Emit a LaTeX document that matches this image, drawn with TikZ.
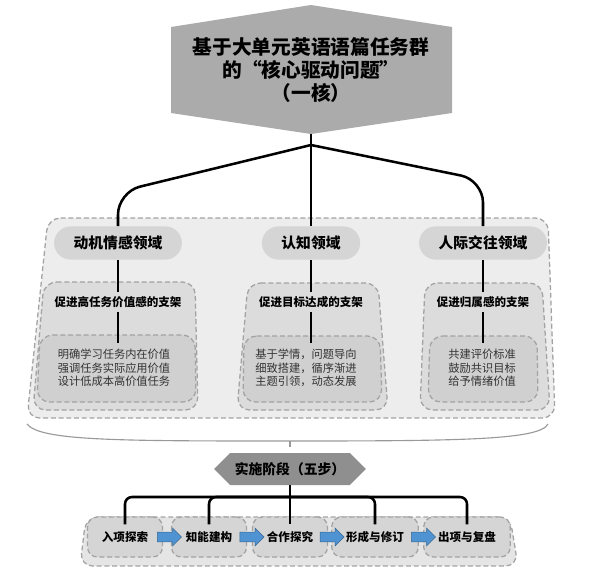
\documentclass[tikz,border=0pt]{standalone}
\usepackage{fontspec}
\setmainfont{Noto Sans CJK SC}
\usetikzlibrary{arrows.meta,positioning,shapes.arrows,shapes.symbols,shapes.misc,calc}
\definecolor{coregray}{HTML}{ABABAB}
\definecolor{phasegray}{HTML}{8F8F8F}
\definecolor{panelgray}{HTML}{EDEDED}
\definecolor{propgray}{HTML}{DCDCDC}
\definecolor{innergray}{HTML}{D0D0D0}
\definecolor{pillgray}{HTML}{D5D5D5}
\definecolor{dashgray}{HTML}{A3A3A3}
\definecolor{flowblue}{HTML}{4F93D2}

\begin{document}
\begin{tikzpicture}[x=0.025cm, y=-0.025cm,
  panel/.style={draw=dashgray, dash pattern=on 3.5pt off 2pt, line width=0.9pt, rounded corners=9pt},
  corebox/.style={align=center, font=\bfseries\fontsize{14}{16.5}\selectfont},
  fieldpill/.style={rounded rectangle, fill=pillgray, minimum height=0.83cm, inner xsep=0.45cm, font=\bfseries\fontsize{10.5}{12}\selectfont},
  propbox/.style={fill=propgray, inner sep=3pt, font=\bfseries\fontsize{8.2}{10}\selectfont},
  detail/.style={align=center, text=black!80, font=\fontsize{8}{9.6}\selectfont},
  trunk/.style={draw=black, line width=1.8pt, rounded corners=16pt},
  phasebox/.style={signal, signal to=west and east, fill=phasegray, minimum width=3.75cm, minimum height=0.8cm, font=\bfseries\fontsize{9.8}{12}\selectfont},
  stepbox/.style={draw=dashgray, dash pattern=on 3.5pt off 2pt, line width=0.9pt, rounded corners=7pt, fill=pillgray, minimum height=1cm, inner xsep=0.36cm, font=\bfseries\fontsize{8.2}{10}\selectfont},
  flowarrow/.style={single arrow, fill=flowblue, draw=flowblue!70!black, line width=0.4pt, minimum height=0.6cm, minimum width=0.43cm, single arrow head extend=0.1cm, inner xsep=0pt, inner ysep=0.115cm}
]
\useasboundingbox (0,0) rectangle (600,579);

\fill[coregray] (171,27) -- (311,5) -- (452,27) -- (452,113) -- (311,134) -- (171,113) -- cycle;
\node[corebox] (core) at (311,70) {基于大单元英语语篇任务群\\的“核心驱动问题”\\（一核）};
\coordinate (corebase) at (311,134);

\draw[panel, fill=panelgray] (48,218) -- (548,218) -- (555,418) -- (27,418) -- cycle;
\draw[panel, fill=propgray] (44,282) -- (195,282) -- (198,410) -- (33,410) -- cycle;
\draw[panel, fill=innergray] (40,335) -- (195,335) -- (196,402) -- (37,402) -- cycle;
\draw[panel, fill=propgray] (248,283) -- (378,283) -- (388,410) -- (237,410) -- cycle;
\draw[panel, fill=innergray] (244,336) -- (380,336) -- (382,402) -- (243,402) -- cycle;
\draw[panel, fill=propgray] (425,283) -- (542,283) -- (550,410) -- (420,410) -- cycle;
\draw[panel, fill=innergray] (430,336) -- (537,336) -- (538,402) -- (428,402) -- cycle;

\node[fieldpill] (dom1) at (118,243) {动机情感领域};
\node[fieldpill] (dom2) at (311,243) {认知领域};
\node[fieldpill] (dom3) at (483,243) {人际交往领域};
\node[propbox] (prop1) at (118,302) {促进高任务价值感的支架};
\node[propbox] (prop2) at (311,302) {促进目标达成的支架};
\node[propbox] (prop3) at (483,302) {促进归属感的支架};
\node[detail] (inner1) at (114,368) {明确学习任务内在价值\\强调任务实际应用价值\\设计低成本高价值任务};
\node[detail] (inner2) at (306,368) {基于学情，问题导向\\细致搭建，循序渐进\\主题引领，动态发展};
\node[detail] (inner3) at (482,368) {共建评价标准\\鼓励共识目标\\给予情绪价值};
\coordinate (tip1) at (118,343);
\coordinate (tip2) at (311,343);
\coordinate (tip3) at (483,343);

\coordinate (fork) at (311,145);
\draw[trunk] (corebase) -- (fork);
\draw[trunk] (fork) -- (118,192) -- (dom1.north);
\draw[trunk] (fork) -- (dom2.north);
\draw[trunk] (fork) -- (483,180) -- (dom3.north);
\draw[trunk] (dom1.south) -- (prop1.north);
\draw[trunk] (dom2.south) -- (prop2.north);
\draw[trunk] (dom3.south) -- (prop3.north);
\draw[trunk] (prop1.south) -- (tip1);
\draw[trunk] (prop2.south) -- (tip2);
\draw[trunk] (prop3.south) -- (tip3);

\coordinate (bracetip) at (290,441);
\draw[draw=black!40, line width=0.8pt] (27,424) .. controls (40,441) and (120,441) .. (bracetip) .. controls (460,441) and (540,440) .. (548,424);
\draw[draw=black!40, line width=0.8pt] (bracetip) -- ++(0,6);

\node[phasebox] (phase) at (290,469) {实施阶段（五步）};

\draw[panel, fill=black!10] (86,517) -- (510,517) -- (518,566) -- (80,566) -- cycle;
\node[stepbox] (s1) at (125,537) {入项探索};
\node[stepbox] (s2) at (209,537) {知能建构};
\node[stepbox] (s3) at (290,537) {合作探究};
\node[stepbox] (s4) at (375,537) {形成与修订};
\node[stepbox] (s5) at (467,537) {出项与复盘};

\coordinate (bar) at (290,497);
\draw[trunk] (phase.south) -- (bar);
\foreach \s in {s1,s2,s3,s4,s5}
  \draw[trunk, rounded corners=5pt] (bar) -| ($(\s.north)+(0,8)$);

\node[flowarrow] (a12) at ($(s1.east)!0.5!(s2.west)$) {};
\node[flowarrow] (a23) at ($(s2.east)!0.5!(s3.west)$) {};
\node[flowarrow] (a34) at ($(s3.east)!0.5!(s4.west)$) {};
\node[flowarrow] (a45) at ($(s4.east)!0.5!(s5.west)$) {};
\end{tikzpicture}
\end{document}
